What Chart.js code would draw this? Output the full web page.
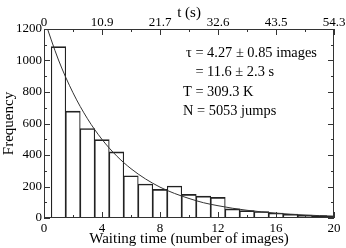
<!DOCTYPE html>
<html>
<head>
<meta charset="utf-8">
<script src="https://cdn.jsdelivr.net/npm/chart.js@4"></script>
<style>
html, body { margin: 0; padding: 0; background: #fff; }
</style>
</head>
<body>
<canvas id="myChart" width="346" height="248"></canvas>
<script>
// histogram: waiting time bins (number of images) and counts
const waitBins = [1, 2, 3, 4, 5, 6, 7, 8, 9, 10, 11, 12, 13, 14, 15, 16, 17, 18, 19, 20];
const counts = [1088, 679, 568, 498, 420, 268, 216, 182, 203, 150, 139, 131, 58, 47, 41, 32, 25, 18, 15, 10];

// exponential fit curve
const fitX = [0, 1, 2, 3, 4, 5, 6, 7, 8, 9, 10, 11, 12, 13, 14, 15, 16, 17, 18, 19, 20];
const fitY = [1265, 1003, 795, 630, 499, 395, 313, 248, 196, 156, 124, 97, 78, 62, 49, 39, 31, 24, 19, 15, 12];

// top axis: time in seconds
const topTickLabels = ['0', '10.9', '21.7', '32.6', '43.5', '54.3'];

const noteLines = ['τ = 4.27 ± 0.85 images', '= 11.6 ± 2.3 s', 'T = 309.3 K', 'N = 5053 jumps'];

const serif = "'Liberation Serif', 'DejaVu Serif', serif";
Chart.defaults.font.family = serif;
Chart.defaults.color = '#000';

// frame with inward ticks on all four sides, plus the fit annotation
const frameTicks = {
    id: 'frameTicks',
    afterDatasetsDraw(chart) {
        const { ctx, chartArea: a, scales } = chart;
        ctx.save();
        ctx.strokeStyle = '#333';
        ctx.lineWidth = 1;
        ctx.strokeRect(a.left + 0.5, a.top + 0.5, a.right - a.left - 1, a.bottom - a.top - 1);
        ctx.beginPath();
        const xs = scales.x;
        for (let v = xs.min; v <= xs.max; v += 2) {
            const px = Math.round(xs.getPixelForValue(v)) + 0.5;
            const len = v % 4 === 0 ? 6 : 3;
            ctx.moveTo(px, a.bottom); ctx.lineTo(px, a.bottom - len);
            ctx.moveTo(px, a.top); ctx.lineTo(px, a.top + len);
        }
        const ys = scales.y;
        for (let v = ys.min; v <= ys.max; v += 100) {
            const py = Math.round(ys.getPixelForValue(v)) + 0.5;
            const len = v % 200 === 0 ? 6 : 3;
            ctx.moveTo(a.left, py); ctx.lineTo(a.left + len, py);
            ctx.moveTo(a.right, py); ctx.lineTo(a.right - len, py);
        }
        ctx.stroke();
        ctx.restore();
    },
    afterDraw(chart) {
        const { ctx, chartArea: a } = chart;
        ctx.save();
        ctx.font = '14.4px ' + serif;
        ctx.fillStyle = '#000';
        ctx.textBaseline = 'middle';
        const x0 = a.left + 142;
        const indent = ctx.measureText('τ ').width;
        ctx.fillText(noteLines[0], x0, 53);
        ctx.fillText(noteLines[1], x0 + indent, 72);
        ctx.fillText(noteLines[2], x0 - 3, 92);
        ctx.fillText(noteLines[3], x0 - 3, 111);
        ctx.restore();
    }
};

const ctx = document.getElementById('myChart').getContext('2d');
new Chart(ctx, {
    type: 'bar',
    data: {
        datasets: [{
            type: 'line',
            data: fitX.map((x, i) => ({ x: x, y: fitY[i] })),
            borderColor: '#333',
            borderWidth: 1,
            pointRadius: 0,
            cubicInterpolationMode: 'monotone',
            fill: false,
            order: 0
        }, {
            type: 'bar',
            data: waitBins.map((x, i) => ({ x: x, y: counts[i] })),
            backgroundColor: 'rgba(255,255,255,0)',
            borderColor: '#222',
            borderWidth: { top: 1, left: 0.5, right: 0.5, bottom: 0 },
            borderSkipped: false,
            barPercentage: 1,
            categoryPercentage: 1,
            order: 1
        }]
    },
    options: {
        responsive: false,
        animation: false,
        devicePixelRatio: 1,
        layout: { padding: { left: 0, right: 12, top: 0, bottom: 0 } },
        plugins: { legend: { display: false }, tooltip: { enabled: false } },
        scales: {
            x: {
                type: 'linear',
                position: 'bottom',
                offset: false,
                min: 0, max: 20,
                grid: { display: false, drawTicks: false, offset: false },
                border: { display: false },
                ticks: { stepSize: 4, padding: 3, maxRotation: 0, font: { size: 13 } },
                title: { display: true, text: 'Waiting time (number of images)', font: { size: 15 }, padding: 0 },
                afterFit(scale) { scale.height = 30; }
            },
            x2: {
                type: 'linear',
                position: 'top',
                offset: false,
                min: 0, max: 20,
                grid: { display: false, drawTicks: false, offset: false },
                border: { display: false },
                ticks: {
                    stepSize: 4, padding: 0, maxRotation: 0, font: { size: 13, lineHeight: 1 },
                    callback: (v, i) => topTickLabels[i]
                },
                title: { display: true, text: 't (s)', font: { size: 15, lineHeight: 1 }, padding: { top: 6, bottom: 0 } },
                afterFit(scale) { scale.height = 29; }
            },
            y: {
                min: 0, max: 1200,
                grid: { display: false, drawTicks: false },
                border: { display: false },
                ticks: { stepSize: 200, padding: 2, font: { size: 13 }, callback: v => String(v) },
                title: { display: true, text: 'Frequency', font: { size: 15 }, padding: 0 },
                afterFit(scale) { scale.width = 44; }
            }
        }
    },
    plugins: [frameTicks]
});
</script>
</body>
</html>
